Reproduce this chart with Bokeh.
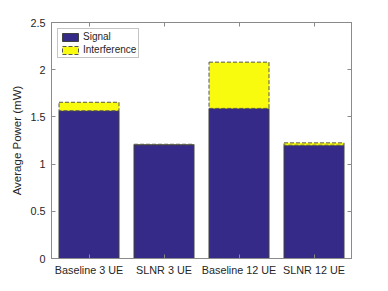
from bokeh.plotting import figure
from bokeh.models import FactorRange, Range1d, LinearAxis, CategoricalAxis, FixedTicker, Legend, LegendItem
from bokeh.embed import file_html
from bokeh.resources import INLINE

categories = ["Baseline 3 UE", "SLNR 3 UE", "Baseline 12 UE", "SLNR 12 UE"]
signal = [1.565, 1.205, 1.59, 1.20]
interference = [0.09, 0.005, 0.49, 0.025]
y_ticks = [0, 0.5, 1, 1.5, 2, 2.5]
series = ["Signal", "Interference"]

AX = "#8a8a8a"
TXT = "#262626"
FONT = "Liberation Sans"

p = figure(x_range=FactorRange(*categories, range_padding=0), y_range=Range1d(0, 2.5),
           width=372, height=280, output_backend="svg", toolbar_location=None,
           min_border_left=51, min_border_right=21, min_border_top=22, min_border_bottom=22)
p.xgrid.visible = False
p.ygrid.visible = False
p.outline_line_color = AX
p.outline_line_width = 1

data = dict(cat=categories, Signal=signal, Interference=interference)
r = p.vbar_stack(series, x="cat", width=0.8, source=data,
                 fill_color=["#352a87", "#f9fb0e"],
                 line_color=["#404040", "#555555"],
                 line_dash=["solid", "4 2"], line_width=1)

def style(ax):
    ax.axis_line_color = AX
    ax.major_tick_line_color = AX
    ax.minor_tick_line_color = None
    ax.major_tick_in = 4
    ax.major_tick_out = 0
    ax.major_label_text_font = FONT
    ax.major_label_text_font_size = "10.8px"
    ax.major_label_text_color = TXT
    ax.axis_label_text_font = FONT
    ax.axis_label_text_font_size = "11.5px"
    ax.axis_label_text_font_style = "normal"
    ax.axis_label_text_color = TXT

style(p.xaxis[0])
p.xaxis[0].major_label_standoff = 5
style(p.yaxis[0])
p.yaxis[0].ticker = FixedTicker(ticks=y_ticks)
p.yaxis[0].axis_label = "Average Power (mW)"
p.yaxis[0].major_label_standoff = 6
p.yaxis[0].axis_label_standoff = 4

ra = LinearAxis(ticker=FixedTicker(ticks=y_ticks))
style(ra)
ra.major_label_text_color = None
ra.major_label_standoff = 0
ra.major_label_overrides = {t: "" for t in y_ticks}
p.add_layout(ra, "right")
ta = CategoricalAxis()
style(ta)
ta.major_label_text_color = None
ta.major_label_standoff = 0
ta.major_label_overrides = {c: "" for c in categories}
p.add_layout(ta, "above")

legend = Legend(items=[LegendItem(label=s, renderers=[rr]) for s, rr in zip(series, r)],
                location="top_left")
legend.label_text_font = FONT
legend.label_text_font_size = "10px"
legend.label_text_color = TXT
legend.border_line_color = AX
legend.glyph_width = 20
legend.glyph_height = 10
legend.label_height = 10
legend.spacing = 2
legend.padding = 2
legend.margin = 6
legend.label_standoff = 3
legend.background_fill_alpha = 1
p.add_layout(legend)

open("out.html", "w").write(file_html(p, INLINE))
